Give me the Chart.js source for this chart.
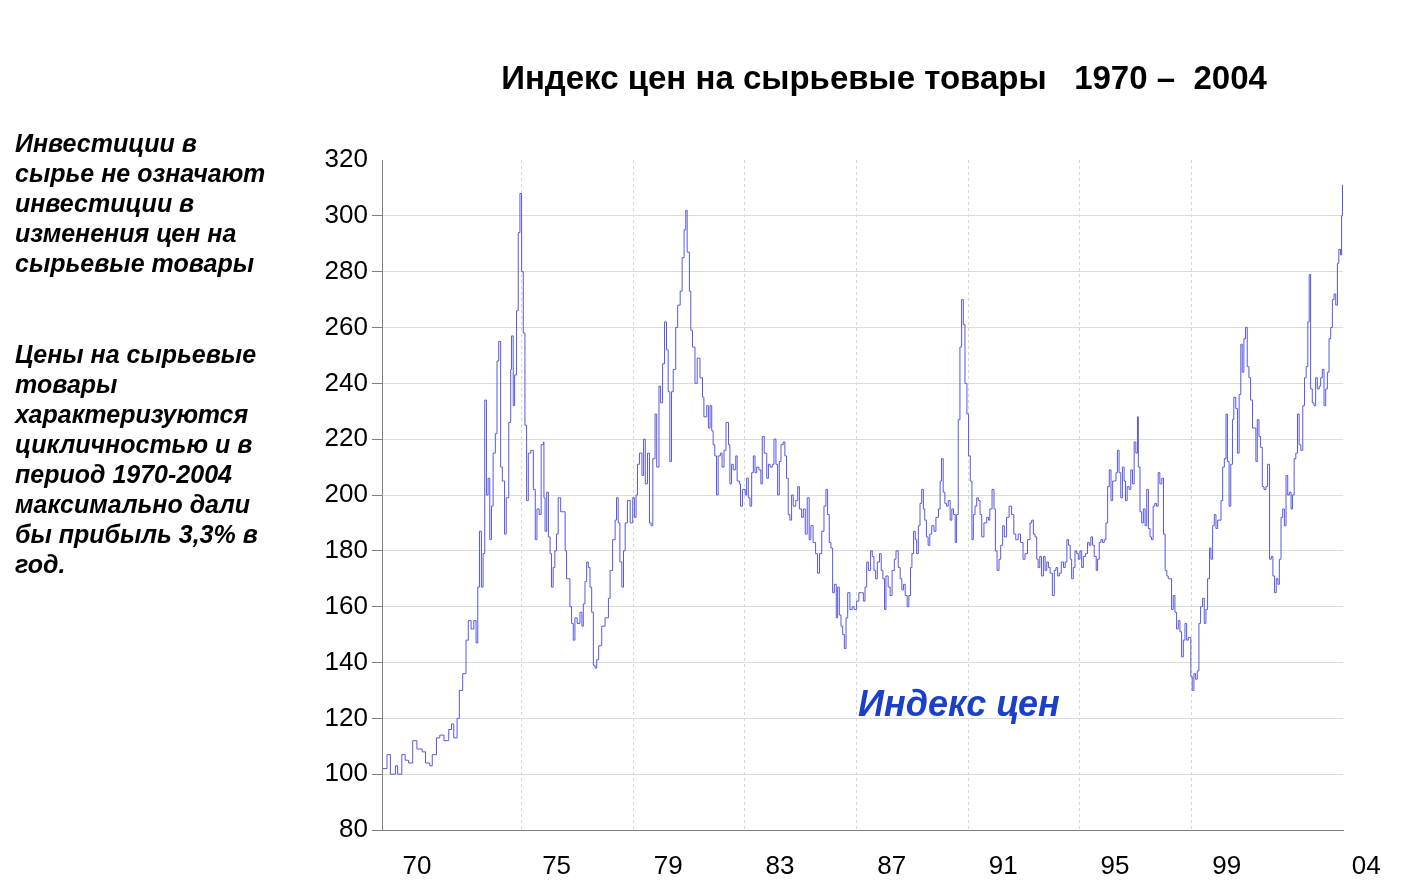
<!DOCTYPE html>
<html>
<head>
<meta charset="utf-8">
<script src="https://cdn.jsdelivr.net/npm/chart.js@4.4.1/dist/chart.umd.min.js"></script>
<style>
  html, body { margin: 0; padding: 0; background: #fff; }
  #wrap { position: relative; width: 1419px; height: 880px; overflow: hidden; }
  #chart { position: absolute; left: 0; top: 0; }
  .title {
    position: absolute; left: 384px; width: 1000px; top: 59px;
    text-align: center; white-space: pre;
    font: bold 33px "Liberation Sans", Arial, sans-serif; color: #000;
  }
  .note {
    position: absolute; left: 15px;
    font: italic bold 25px/30px "Liberation Sans", Arial, sans-serif; color: #000;
  }
  .series-label {
    position: absolute; left: 858px; top: 683px;
    font: italic bold 36px "Liberation Sans", Arial, sans-serif; color: #1a3fc8;
  }
</style>
</head>
<body>
<div id="wrap">
  <canvas id="chart" width="1419" height="880"></canvas>
  <div class="title">Индекс цен на сырьевые товары   1970 –  2004</div>
  <div class="note" style="top:128px">Инвестиции в<br>сырье не означают<br>инвестиции в<br>изменения цен на<br>сырьевые товары</div>
  <div class="note" style="top:339px">Цены на сырьевые<br>товары<br>характеризуются<br>цикличностью и в<br>период 1970-2004<br>максимально дали<br>бы прибыль  3,3% в<br>год.</div>
  <div class="series-label">Индекс цен</div>
</div>
<script>
// commodity price index (decimal year -> index)
const years1970s = [
  1970.03,1970.18,1970.30,1970.48,1970.56,1970.71,1970.83,1970.95,1971.10,1971.25,
  1971.44,1971.56,1971.71,1971.80,1971.95,1972.07,1972.22,1972.39,1972.49,1972.57,
  1972.69,1972.77,1972.89,1973.01,1973.09,1973.19,1973.29,1973.37,1973.43,1973.49,
  1973.56,1973.62,1973.68,1973.74,1973.80,1973.86,1973.92,1973.98,1974.06,1974.12,
  1974.18,1974.25,1974.31,1974.39,1974.45,1974.54,1974.61,1974.64,1974.70,1974.75,
  1974.82,1974.88,1974.94,1975.00,1975.06,1975.12,1975.18,1975.24,1975.33,1975.42,
  1975.49,1975.55,1975.63,1975.70,1975.78,
  1975.80,1975.84,1975.90,1975.96,1976.02,1976.07,1976.13,1976.19,1976.25,1976.31,
  1976.40,1976.50,1976.56,1976.61,1976.73,1976.79,1976.85,1976.91,1976.99,1977.09,
  1977.16,1977.21,1977.27,1977.33,1977.39,1977.45,1977.51,1977.57,1977.63,1977.69,
  1977.76,1977.87,1977.99,1978.11,1978.17,1978.26,1978.35,1978.40,1978.46,1978.52,
  1978.59,1978.65,1978.71,1978.79,1978.89,1978.98,1979.04,1979.10,1979.15,1979.22,
  1979.31,1979.37,1979.43,1979.51,1979.58,1979.64,1979.70,1979.78,1979.84,1979.92,
  1979.98,1980.05,1980.12,1980.19,1980.25,1980.31,1980.37,1980.43,1980.52,1980.59,
  1980.68,1980.75,1980.82,1980.88,1980.93,1981.01,1981.06,1981.12,1981.21,1981.29,
  1981.39,1981.48,1981.53
];
const index1970s = [
  102,107,100,103,100,107,105,104,112,109,
  108,104,103,107,113,114,112,116,118,113,
  120,130,136,148,155,152,155,147,167,187,
  167,179,234,200,206,184,196,215,222,248,
  255,210,205,186,199,226,245,257,232,243,
  266,294,308,280,258,225,198,215,216,202,
  184,195,193,218,219,
  199,187,201,185,179,167,174,180,186,199,
  194,194,180,170,160,154,148,156,154,158,
  153,161,169,176,174,167,158,139,138,141,
  146,153,156,163,173,184,191,199,190,176,
  167,180,190,198,190,199,192,200,211,215,
  207,220,204,215,190,189,213,229,210,239,
  233,247,262,252,237,212,237,245,260,268,
  273,285,295,302,287,273,259,253,240,249,
  242,235,228
];

const years1980s = [
  1981.63,1981.69,1981.75,1981.81,1981.86,1981.92,1981.98,1982.04,1982.12,1982.18,
  1982.25,1982.32,1982.41,1982.46,1982.52,1982.58,1982.67,1982.72,1982.80,1982.84,
  1982.91,1983.01,1983.06,1983.12,1983.18,1983.24,1983.30,1983.36,1983.42,1983.50,
  1983.57,1983.62,1983.69,1983.78,1983.84,1983.90,1983.98,1984.04,1984.11,1984.17,
  1984.23,1984.29,1984.37,1984.43,1984.49,1984.55,1984.61,1984.67,1984.73,1984.82,
  1984.89,1984.95,1985.03,1985.09,1985.16,1985.23,1985.30,1985.36,1985.44,1985.53,
  1985.60,1985.67,1985.75,1985.83,1985.90,1985.96,1986.02,1986.08,1986.14,1986.20,
  1986.27,1986.32,1986.38,1986.44,1986.50,1986.56,1986.62,1986.68,1986.76,1986.84,
  1986.91,1987.00,1987.08,
  1987.18,1987.24,1987.30,1987.36,1987.42,1987.50,1987.56,1987.62,1987.68,1987.74,
  1987.82,1987.88,1987.94,1988.00,1988.05,1988.13,1988.20,1988.27,1988.35,1988.41,
  1988.49,1988.56,1988.62,1988.68,1988.74,1988.81,1988.87,1988.93,1988.98,1989.04,
  1989.10,1989.15,1989.21,1989.27,1989.33,1989.39,1989.44,1989.50,1989.56,1989.62,
  1989.69,1989.77,1989.84,1989.93,1989.99,1990.04,1990.10,1990.16,1990.22,1990.28,
  1990.35,1990.41,1990.47,1990.53,1990.58,1990.64,1990.70,1990.76,1990.82,1990.88,
  1990.95,1991.01,1991.07,1991.13,1991.18,1991.24,1991.30,1991.36,1991.42,1991.48,
  1991.56,1991.66,1991.72,1991.77,1991.85,1991.92,1991.97,1992.03,1992.10,1992.16,
  1992.23,1992.29,1992.37,1992.46,1992.55,1992.63,1992.70,1992.79,1992.87,1992.96
];
const index1980s = [
  232,224,232,223,218,214,200,214,215,210,
  216,226,218,204,211,209,214,205,204,196,
  202,200,206,199,196,208,214,208,210,209,
  204,221,215,206,211,210,211,220,211,200,
  212,218,219,214,206,193,191,200,196,198,
  203,195,192,195,186,199,184,189,183,179,
  172,179,187,196,202,193,183,181,165,168,
  156,167,157,153,150,145,156,165,159,160,
  159,162,165,
  165,162,167,176,173,180,178,173,170,176,
  179,173,170,159,171,167,164,173,177,180,
  174,170,166,168,164,160,164,174,179,187,
  184,179,189,197,202,195,191,185,182,186,
  189,187,192,195,205,213,201,197,196,198,
  191,195,193,183,193,227,253,270,261,240,
  229,214,205,184,193,196,199,198,193,185,
  190,192,191,195,202,195,180,173,177,182,
  189,185,192,196,193,186,184,186,183,177
];

const years1990s = [
  1993.03,1993.12,1993.21,1993.27,1993.33,1993.39,1993.45,1993.50,1993.56,1993.62,
  1993.69,1993.75,1993.81,1993.87,1993.93,1994.01,1994.08,1994.14,1994.20,1994.26,
  1994.33,1994.41,1994.47,1994.53,1994.59,1994.65,1994.70,1994.76,1994.82,1994.88,
  1994.94,1995.00,1995.06,1995.12,1995.20,1995.27,1995.33,1995.39,1995.45,1995.51,
  1995.58,1995.63,1995.69,1995.75,1995.81,1995.87,1995.93,1995.99,1996.05,1996.11,
  1996.17,1996.23,1996.29,1996.34,1996.40,1996.46,1996.52,1996.58,1996.63,1996.69,
  1996.76,1996.82,1996.88,1996.94,1997.00,1997.06,1997.09,1997.15,1997.21,1997.27,
  1997.33,1997.39,1997.45,1997.51,1997.56,1997.62,1997.68,1997.74,1997.80,1997.86,
  1997.93,1997.99,1998.05,1998.11,1998.16,1998.22,1998.28,1998.34,1998.40,1998.46,
  1998.52,1998.58,1998.64,1998.70,
  1998.76,1998.82,1998.88,1998.97,1999.02,1999.08,1999.14,1999.20,1999.26,1999.32,
  1999.39,1999.45,1999.51,1999.57,1999.64,1999.69,1999.75,1999.81,1999.87,1999.93,
  1999.99,2000.05,2000.11,2000.17,2000.23,2000.28,2000.34,2000.40,2000.46,2000.51,
  2000.58,2000.64,2000.70,2000.76,2000.81,2000.87,2000.93,2000.99,2001.05,2001.11,
  2001.18,2001.24,2001.30,2001.35,2001.41,2001.47,2001.53,2001.59,2001.66,2001.72,
  2001.79,2001.85,2001.91,2001.97,2002.03,2002.09,2002.14,2002.20,2002.26,2002.32,
  2002.38,2002.44,2002.50,2002.56,2002.61,2002.67,2002.73,2002.79,2002.85,2002.91,
  2002.98,2003.04,2003.10,2003.16,2003.21,2003.26,2003.32,2003.38,2003.44,2003.50,
  2003.57,2003.62,2003.68,2003.74,2003.80,2003.86,2003.92,2003.98,2004.04,2004.10,
  2004.16,2004.22,2004.27,2004.33,2004.37,2004.40,2004.41
];
const index1990s = [
  179,184,190,191,186,185,177,174,178,171,
  178,173,176,174,172,164,173,174,171,172,
  176,174,176,184,182,177,170,174,180,179,
  177,180,174,178,179,183,182,185,182,178,
  173,177,183,184,183,184,190,203,209,198,
  205,205,208,216,208,199,210,205,198,203,
  202,209,204,219,215,228,210,194,190,195,
  189,202,188,185,184,196,197,196,208,204,
  206,186,173,171,170,170,159,164,158,152,
  155,151,142,148,
  154,148,149,135,130,136,134,137,154,160,
  163,154,159,170,181,177,189,193,188,191,
  191,198,210,213,229,212,196,211,227,235,
  231,215,236,254,244,256,260,246,242,234,
  224,224,212,227,221,217,203,202,203,211,
  177,178,171,165,170,168,177,192,195,189,
  207,200,201,195,200,213,215,229,218,216,
  232,242,246,262,279,238,233,232,242,238,
  239,242,245,232,238,244,256,260,270,272,
  268,283,288,286,300,311,302
];

const yTicks = [80, 100, 120, 140, 160, 180, 200, 220, 240, 260, 280, 300, 320];
const xTickYears = [1970, 1975, 1979, 1983, 1987, 1991, 1995, 1999, 2004];
const lastYear = 2004.42;

const years = [...years1970s, ...years1980s, ...years1990s];
const index = [...index1970s, ...index1980s, ...index1990s];
const points = years.map((x, i) => ({ x: x, y: index[i] }));

const axisFont = { family: "'Liberation Sans', Arial, sans-serif", size: 26 };

new Chart(document.getElementById("chart"), {
  type: "line",
  data: {
    datasets: [
      {
        label: "Индекс цен",
        data: points,
        borderColor: "rgb(88, 88, 228)",
        borderWidth: 1,
        pointRadius: 0,
        stepped: "before",
        fill: false,
      },
    ],
  },
  options: {
    responsive: false,
    animation: false,
    devicePixelRatio: 1,
    layout: { padding: { top: 160, right: 76, left: 0, bottom: 0 } },
    plugins: { legend: { display: false }, tooltip: { enabled: false } },
    scales: {
      x: {
        type: "linear",
        min: 1970,
        max: lastYear,
        afterBuildTicks: (scale) => {
          scale.ticks = xTickYears.map((v) => ({ value: v }));
        },
        afterFit: (scale) => {
          scale.height = 50;
        },
        ticks: {
          font: axisFont,
          color: "#000",
          padding: 21,
          labelOffset: 35,
          maxRotation: 0,
          autoSkip: false,
          callback: (v) => String(v).slice(2),
        },
        grid: {
          drawTicks: false,
          color: (ctx) =>
            ctx.tick && (ctx.tick.value === 1970 || ctx.tick.value === 2004)
              ? "rgba(0,0,0,0)"
              : "#d6d6d6",
        },
        border: { color: "#808080", width: 1, dash: [3, 3] },
      },
      y: {
        min: 80,
        max: 320,
        afterBuildTicks: (scale) => {
          scale.ticks = yTicks.map((v) => ({ value: v }));
        },
        afterFit: (scale) => {
          scale.width = 382;
        },
        ticks: {
          font: axisFont,
          color: "#000",
          padding: 4,
        },
        grid: {
          tickLength: 10,
          color: (ctx) =>
            ctx.tick && ctx.tick.value === 320 ? "rgba(0,0,0,0)" : "#dcdcdc",
          tickColor: (ctx) =>
            ctx.tick && ctx.tick.value === 320 ? "rgba(0,0,0,0)" : "#808080",
        },
        border: { color: "#808080", width: 1 },
      },
    },
  },
});
</script>
</body>
</html>
